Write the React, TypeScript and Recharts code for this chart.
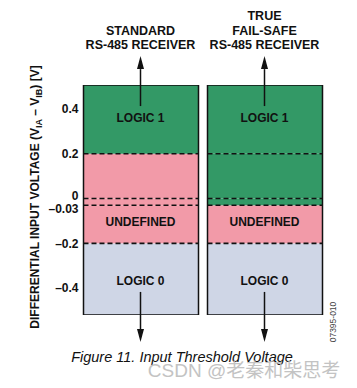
import React from 'react';
import { BarChart, Bar, XAxis, YAxis, Cell, ReferenceLine, ReferenceDot, Label } from 'recharts';

// receivers (columns) and their header titles
const receivers = ['standard', 'failsafe'];
const receiverTitles = [['STANDARD', 'RS-485 RECEIVER'], ['TRUE', 'FAIL-SAFE', 'RS-485 RECEIVER']];

// voltage bands between thresholds, bottom to top
const bandEdges = [-0.52, -0.2, -0.03, 0, 0.2, 0.507];
const standardStates = ['LOGIC 0', 'UNDEFINED', 'UNDEFINED', 'UNDEFINED', 'LOGIC 1'];
const failsafeStates = ['LOGIC 0', 'UNDEFINED', 'LOGIC 1', 'LOGIC 1', 'LOGIC 1'];

const yTicks = [0.4, 0.2, 0, -0.03, -0.2, -0.4];

// where the state names sit (volts)
const stateLabelText = ['LOGIC 1', 'UNDEFINED', 'LOGIC 0'];
const stateLabelValues = [0.359, -0.105, -0.368];

// arrows (from, to) in volts
const arrowUp = [0.413, 0.636];
const arrowDown = [-0.417, -0.641];

const stateColors: Record<string, string> = {
  'LOGIC 0': '#cfd6e6',
  UNDEFINED: '#f29aa8',
  'LOGIC 1': '#339966',
};

const FONT = '"Liberation Sans", Arial, sans-serif';
const INK = '#111';

const bandKeys = bandEdges.slice(0, -1).map((_, i) => `b${i}`);
const statesByReceiver = [standardStates, failsafeStates];

const data = receivers.map((name) => {
  const row: any = { name, box: [bandEdges[0], bandEdges[bandEdges.length - 1]] };
  bandKeys.forEach((k, i) => {
    row[k] = [bandEdges[i], bandEdges[i + 1]];
  });
  return row;
});

const fmt = (v: number) => (v < 0 ? '\u2013' + String(Math.abs(v)) : String(v));

// band rect; the threshold it sits on is drawn as a dashed line on its bottom edge
const BandShape = (props: any) => {
  const { x, y, width, height, fill, dashedBottom } = props;
  const top = Math.min(y, y + height);
  const h = Math.abs(height);
  return (
    <g>
      <rect x={x} y={top} width={width} height={h} fill={fill} />
      {dashedBottom && (
        <line x1={x} x2={x + width} y1={top + h} y2={top + h} stroke={INK} strokeWidth={1.6} strokeDasharray="5 3" />
      )}
    </g>
  );
};

const Arrow = (props: any) => {
  const { x1, y1, x2, y2 } = props;
  const dir = y2 < y1 ? -1 : 1;
  const head = 13;
  return (
    <g>
      <line x1={x1} y1={y1} x2={x2} y2={y2 - dir * head} stroke={INK} strokeWidth={1.5} />
      <polygon points={`${x2},${y2} ${x2 - 3.5},${y2 - dir * head} ${x2 + 3.5},${y2 - dir * head}`} fill={INK} />
    </g>
  );
};

const YTick = ({ x, y, payload }: any) => {
  const v = payload.value;
  // 0 and -0.03 are drawn close together; spread the labels a bit
  const nudge = v === 0 ? -3 : v === -0.03 ? 3.5 : 0;
  return (
    <text x={x} y={y + nudge} dy="0.35em" textAnchor="end" fontFamily={FONT} fontWeight="bold" fontSize={12} fill={INK}>
      {fmt(v)}
    </text>
  );
};

const TitleTick = ({ x, y, payload }: any) => {
  const lines = receiverTitles[receivers.indexOf(payload.value)] || [];
  const n = lines.length;
  return (
    <g>
      {lines.map((t, i) => (
        <text key={t} x={x} y={y - 36 - (n - 1 - i) * 14.5} textAnchor="middle" fontFamily={FONT} fontWeight="bold" fontSize={12.5} fill={INK}>
          {t}
        </text>
      ))}
    </g>
  );
};

const AxisTitle = ({ viewBox }: any) => {
  const cx = viewBox.x + 16;
  const cy = 197;
  return (
    <text x={cx} y={cy} transform={`rotate(-90, ${cx}, ${cy})`} textAnchor="middle" dy="0.35em" fontFamily={FONT} fontWeight="bold" fontSize={12} fill={INK}>
      DIFFERENTIAL INPUT VOLTAGE (V
      <tspan fontSize={9} dy={3}>IA</tspan>
      <tspan dy={-3}> – V</tspan>
      <tspan fontSize={9} dy={3}>IB</tspan>
      <tspan dy={-3}>) [V]</tspan>
    </text>
  );
};

export default function App() {
  return (
    <div style={{ position: 'absolute', left: 0, top: 0, width: 357, height: 388, background: '#fff' }}>
      <BarChart width={357} height={388} data={data} margin={{ top: 25, right: 30.5, bottom: 73, left: 18.5 }}>
        <XAxis
          xAxisId="box"
          dataKey="name"
          orientation="top"
          height={60}
          axisLine={false}
          tickLine={false}
          tickSize={0}
          tickMargin={0}
          tick={<TitleTick />}
        />
        {bandKeys.map((k) => (
          <XAxis key={k} xAxisId={k} dataKey="name" hide />
        ))}
        <YAxis
          type="number"
          domain={[bandEdges[0], bandEdges[bandEdges.length - 1]]}
          ticks={yTicks}
          interval={0}
          allowDataOverflow
          width={60}
          axisLine={false}
          tickLine={false}
          tickSize={0}
          tickMargin={0}
          tick={<YTick />}
        >
          <Label content={<AxisTitle />} />
        </YAxis>
        {bandKeys.map((k, i) => (
          <Bar
            key={k}
            xAxisId={k}
            dataKey={k}
            barSize={115}
            isAnimationActive={false}
            shape={<BandShape dashedBottom={i > 0} />}
          >
            {receivers.map((r, ri) => (
              <Cell key={r} fill={stateColors[statesByReceiver[ri][i]]} />
            ))}
          </Bar>
        ))}
        <Bar xAxisId="box" dataKey="box" barSize={115} fill="none" stroke={INK} strokeWidth={1.5} isAnimationActive={false} />
        {receivers.map((r) =>
          stateLabelValues.map((v, i) => (
            <ReferenceDot
              key={`${r}-${i}`}
              xAxisId="box"
              x={r}
              y={v}
              r={0}
              shape={(p: any) => (
                <text x={p.cx} y={p.cy} dy="0.35em" textAnchor="middle" fontFamily={FONT} fontWeight="bold" fontSize={12} fill={INK}>
                  {stateLabelText[i]}
                </text>
              )}
            />
          ))
        )}
        {receivers.map((r) => (
          <ReferenceLine
            key={`up-${r}`}
            xAxisId="box"
            ifOverflow="visible"
            segment={[{ x: r, y: arrowUp[0] }, { x: r, y: arrowUp[1] }]}
            shape={<Arrow />}
          />
        ))}
        {receivers.map((r) => (
          <ReferenceLine
            key={`down-${r}`}
            xAxisId="box"
            ifOverflow="visible"
            segment={[{ x: r, y: arrowDown[0] }, { x: r, y: arrowDown[1] }]}
            shape={<Arrow />}
          />
        ))}
      </BarChart>
      <svg width={357} height={388} style={{ position: 'absolute', left: 0, top: 0, pointerEvents: 'none' }}>
        <text x={333} y={322} transform="rotate(-90, 333, 322)" textAnchor="middle" dy="0.35em" fontFamily={FONT} fontSize={8.5} fill="#444">
          07395-010
        </text>
        <text x={182} y={362} textAnchor="middle" fontFamily={FONT} fontStyle="italic" fontSize={14.5} fill={INK}>
          Figure 11. Input Threshold Voltage
        </text>
        <text x={244} y={377} textAnchor="middle" fontFamily={'"Liberation Sans", "Noto Sans CJK SC", sans-serif'} fontSize={19} fill="#bdbdbd" opacity={0.9}>
          CSDN @老秦和柴思考
        </text>
      </svg>
    </div>
  );
}
